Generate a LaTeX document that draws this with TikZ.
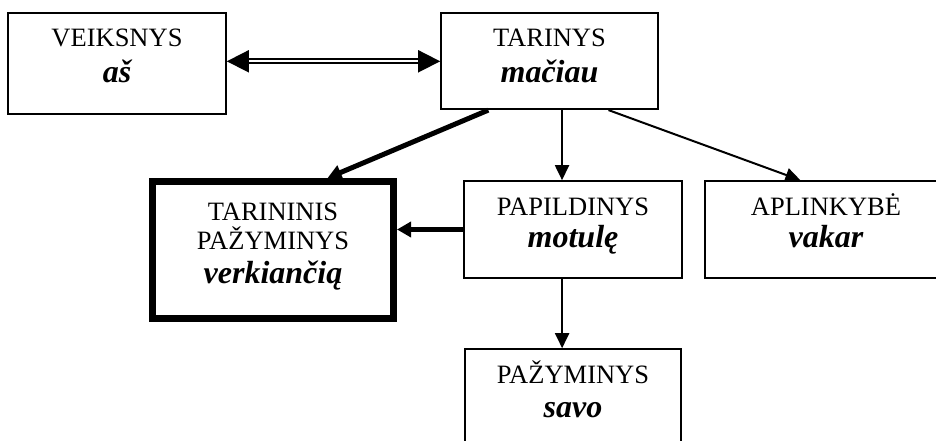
\documentclass[tikz,border=0pt]{standalone}
\usepackage{fontspec}
\setmainfont{Liberation Serif}
\usetikzlibrary{arrows.meta,calc}

\tikzset{
  box/.style={draw, line width=1.6pt, inner sep=0pt, anchor=north west},
  boldbox/.style={box, line width=7pt},
  word/.style={anchor=base, inner sep=0pt, font=\fontsize{26.5}{30}\selectfont},
  form/.style={anchor=base, inner sep=0pt, font=\fontsize{32}{36}\selectfont\bfseries\itshape},
  link/.style={line width=2pt, -{Triangle[length=15pt,width=14pt]}},
  strong/.style={line width=5pt, -{Triangle[length=14pt,width=15pt]}},
  mutual/.style={double, double distance=2.4pt, line width=1.8pt,
    {Triangle[length=22pt,width=22pt]}-{Triangle[length=22pt,width=22pt]}}
}

\begin{document}
\begin{tikzpicture}[x=1pt,y=-1pt]
  \useasboundingbox (0,0) rectangle (936,441);
  \clip (0,0) rectangle (936,441);

  % boxes (corner, then size)
  \node[box, minimum width=218pt, minimum height=101pt] (V)  at (7.2,12.5) {};
  \node[box, minimum width=217pt, minimum height=96pt]  (T)  at (440.2,12.5) {};
  \node[boldbox, minimum width=241pt, minimum height=137pt] (TP) at (149,178) {};
  \node[box, minimum width=218pt, minimum height=97pt]  (P)  at (463.2,180.2) {};
  \node[box, minimum width=245pt, minimum height=97pt]  (A)  at (704.2,180.2) {};
  \node[box, minimum width=216pt, minimum height=130pt] (PZ) at (464.2,348.2) {};

  % texts
  \node[word] (v1) at (117,47) {VEIKSNYS};
  \node[form] (v2) at (117,83) {aš};
  \node[word] (t1) at (549.5,47) {TARINYS};
  \node[form] (t2) at (549.5,83) {mačiau};
  \node[word] (tp1) at (273,220) {TARININIS};
  \node[word] (tp2) at (273,249) {PAŽYMINYS};
  \node[form] (tp3) at (273,283) {verkiančią};
  \node[word] (p1) at (573,215.5) {PAPILDINYS};
  \node[form] (p2) at (573,247) {motulę};
  \node[word] (a1) at (826,215.5) {APLINKYBĖ};
  \node[form] (a2) at (826,247) {vakar};
  \node[word] (pz1) at (573,383) {PAŽYMINYS};
  \node[form] (pz2) at (573,417) {savo};

  % attachment points
  \coordinate (tpin) at ($(TP.north west)!0.72!(TP.north east)$);
  \coordinate (tout1) at ($(T.south west)!0.22!(T.south east)$);
  \coordinate (tout3) at ($(T.south west)!0.77!(T.south east)$);
  \coordinate (pin)  at ($(P.north west)!0.45!(P.north east)$);
  \coordinate (ain)  at ($(A.north west)!0.39!(A.north east)$);
  \coordinate (pzin) at ($(PZ.north west)!0.45!(PZ.north east)$);

  % connectors
  \draw[mutual] (T.west -| V.east) -- (T.west);
  \draw[strong] (tout1) -- (tpin);
  \draw[link] (pin |- T.south) -- (pin);
  \draw[link] (tout3) -- (ain);
  \draw[strong] (P.west) -- (P.west -| TP.east);
  \draw[link] (pzin |- P.south) -- (pzin);
\end{tikzpicture}
\end{document}
